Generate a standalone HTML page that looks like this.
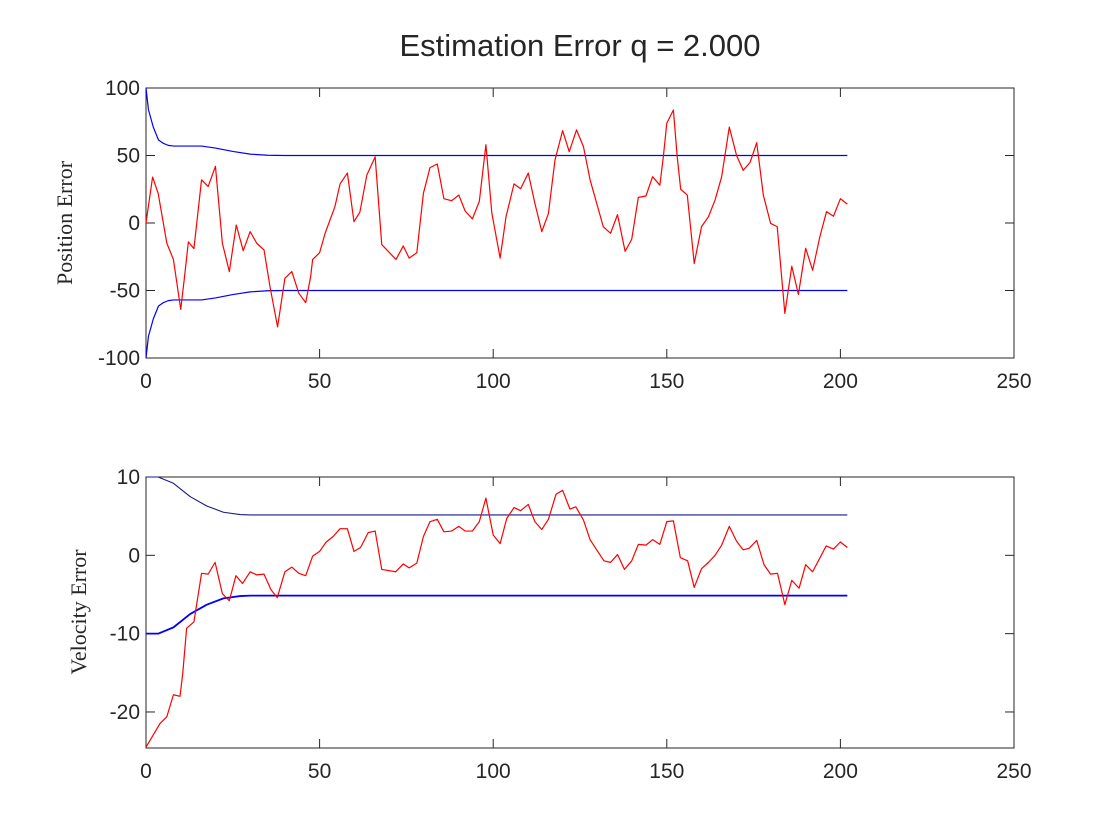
<!DOCTYPE html>
<html><head><meta charset="utf-8"><style>
html,body{margin:0;padding:0;background:#fff;}
svg{display:block;font-family:"Liberation Sans",sans-serif;}
</style></head><body>
<svg id="fig" width="1120" height="840" viewBox="0 0 1120 840">
<rect width="1120" height="840" fill="#fff"/>
<text x="580" y="56" font-size="31" text-anchor="middle" fill="#262626">Estimation Error q = 2.000</text>
<text transform="translate(72,223) rotate(-90)" font-family="'Liberation Serif',serif" font-size="22" text-anchor="middle" fill="#262626">Position Error</text>
<text transform="translate(86,612) rotate(-90)" font-family="'Liberation Serif',serif" font-size="22" text-anchor="middle" fill="#262626">Velocity Error</text>
<g id="topPlot"></g>
<g id="botPlot"></g>
</svg>
<script>
const xTicks=[0,50,100,150,200,250];
const posYTicks=[-100,-50,0,50,100];
const velYTicks=[-20,-10,0,10];
const posErrX=[0,1.9,3.5,6,7.9,10,11,12.2,13.8,16,17.9,20,22,24,26,28,30,31.9,34,35.7,37.9,40,42,44,46,47.4,48,50,51.6,54.4,55.9,58,59.9,61.6,63.6,66,67.9,72,74.1,75.8,78,79.9,81.8,83.9,85.8,88,90.1,91.9,94,96,97.9,99.6,102,103.7,106,107.9,110.1,112,114,115.9,117.8,120,121.9,124,126,127.9,131.7,133.8,135.8,138,139.9,141.8,144,145.9,148,149,150,151.9,153,154,155.9,157.9,160,162,163.9,165.8,168,170.1,172,174,175.9,177.8,179.9,181.8,184,186,187.9,190,192,194.1,196,198,200,202];
const posErrY=[0,34,22,-15,-27,-64,-42,-14,-19,32,27,42,-15,-36,-1.5,-20.5,-6.4,-15,-20,-47,-77,-41,-36,-52,-59,-40,-27,-22,-7.5,12,29,37,1,8,35.5,49,-16,-27,-17,-26,-22,22,41,43.7,18,16.5,20.7,9,3,16,58,7.4,-26,4.7,29,25.4,37,14.6,-6.4,7,46.7,68.4,52.8,69,56.5,32,-2.7,-7.6,6.2,-21,-12,19,20,34.3,28,49,74,83.7,49,25,20.7,-30,-2.7,4.7,17,34.3,71,50,39,45,59.5,20.7,-0.3,-2.7,-67,-32,-53,-18.7,-35,-10,8.4,5,18,14];
const posBoundX=[0,0.7,2.1,3.6,5,6.4,8,16,20,25,30,35,40,202];
const posBoundY=[100,84,71,61.5,59,57.5,57,57,55.5,53,51,50.2,50,50];
const velErrX=[0,4,6,7.9,9.8,10.6,11.7,13.8,16,17.9,19.9,22,24,25.9,27.8,30,31.9,34,36,37.8,40,42,44,46,48,50,51.9,53.9,55.9,58,59.9,61.8,64,66,67.9,71.9,74.1,75.8,78,79.9,81.8,83.9,85.8,88,90.1,91.9,94,96,97.9,100,102,103.9,106,107.9,110.1,112,114,115.9,118.1,120,122.1,123.8,126,127.9,129.8,131.9,133.8,135.8,137.8,139.9,141.8,144,145.9,148,150,151.9,153.9,156,157.9,160,162,163.9,165.8,168,170.1,172,173.7,175.9,178,179.9,181.9,184,186,188.1,190,192,195.9,198,200,202];
const velErrY=[-24.5,-21.5,-20.6,-17.8,-18,-15,-9.3,-8.5,-2.3,-2.4,-0.9,-4.9,-5.8,-2.6,-3.6,-2.1,-2.5,-2.4,-4.4,-5.4,-2.1,-1.5,-2.3,-2.6,-0.1,0.5,1.7,2.4,3.4,3.4,0.5,1.0,2.9,3.1,-1.8,-2.1,-1.1,-1.6,-1.0,2.4,4.3,4.6,3.0,3.1,3.7,3.1,3.1,4.3,7.3,2.6,1.5,4.7,6.1,5.7,6.5,4.3,3.3,4.6,7.8,8.3,5.9,6.2,4.5,2.0,0.7,-0.7,-0.9,0.1,-1.8,-0.7,1.4,1.3,2.0,1.4,4.3,4.4,-0.3,-0.7,-4.1,-1.7,-0.9,0.0,1.3,3.7,1.8,0.7,0.9,1.9,-1.2,-2.4,-2.3,-6.3,-3.2,-4.2,-1.2,-2.1,1.2,0.8,1.7,1.0];
const velBoundX=[0,3.5,7.9,12.7,17.5,22.3,27.1,30,202];
const velBoundY=[10,10,9.2,7.5,6.3,5.5,5.2,5.15,5.15];

const NS='http://www.w3.org/2000/svg';
function mk(parent,tag,attrs){const e=document.createElementNS(NS,tag);for(const k in attrs)e.setAttribute(k,attrs[k]);parent.appendChild(e);return e;}
function axes(g,L,R,T,B,xmin,xmax,ymin,ymax,yTicks,pre){
  const sx=v=>L+(v-xmin)/(xmax-xmin)*(R-L);
  const sy=v=>B-(v-ymin)/(ymax-ymin)*(B-T);
  const box=mk(g,'rect',{x:L,y:T,width:R-L,height:B-T,fill:'none',stroke:'#262626','stroke-width':1});
  
  
  xTicks.forEach(t=>{
    const x=sx(t);
    mk(g,'line',{x1:x,y1:B,x2:x,y2:B-9,stroke:'#262626'});
    mk(g,'line',{x1:x,y1:T,x2:x,y2:T+9,stroke:'#262626'});
    const tx=mk(g,'text',{x:x,y:B+30,'font-size':21,'text-anchor':'middle',fill:'#262626'});
    tx.textContent=t;
    
    
  });
  yTicks.forEach(t=>{
    const y=sy(t);
    mk(g,'line',{x1:L,y1:y,x2:L+9,y2:y,stroke:'#262626'});
    mk(g,'line',{x1:R,y1:y,x2:R-9,y2:y,stroke:'#262626'});
    const tx=mk(g,'text',{x:L-6,y:y+7,'font-size':21,'text-anchor':'end',fill:'#262626'});
    tx.textContent=t;
    
    
  });
  return [sx,sy];
}
function drawLine(g,xs,ys,sx,sy,col,w,name){
  const p=mk(g,'polyline',{points:xs.map((x,i)=>sx(x)+','+sy(ys[i])).join(' '),fill:'none',stroke:col,'stroke-width':w,'stroke-linejoin':'round'});
  
  
}
const gTop=document.getElementById('topPlot');
const s1=axes(gTop,146,1014,88,358,0,250,-100,100,posYTicks,'position');
drawLine(gTop,posBoundX,posBoundY,s1[0],s1[1],'#0000ff',1.2,'position-upper-bound');
drawLine(gTop,posBoundX,posBoundY.map(v=>-v),s1[0],s1[1],'#0000ff',1.2,'position-lower-bound');
drawLine(gTop,posErrX,posErrY,s1[0],s1[1],'#ff0000',1.2,'position-error-line');
const gBot=document.getElementById('botPlot');
const s2=axes(gBot,146,1014,477,748,0,250,-24.6,10,velYTicks,'velocity');
drawLine(gBot,velBoundX,velBoundY,s2[0],s2[1],'#1a1a80',1.1,'velocity-upper-bound');
drawLine(gBot,velBoundX,velBoundY.map(v=>-v),s2[0],s2[1],'#0000ff',1.8,'velocity-lower-bound');
drawLine(gBot,velErrX,velErrY,s2[0],s2[1],'#ff0000',1.2,'velocity-error-line');
</script>
</body></html>
